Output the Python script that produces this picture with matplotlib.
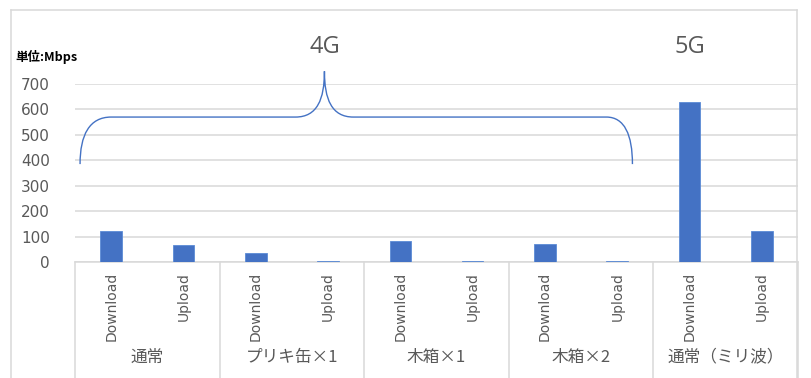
import numpy as np
import matplotlib.pyplot as plt
from matplotlib.path import Path
from matplotlib.patches import PathPatch
from matplotlib.lines import Line2D

plt.rcParams['font.family'] = ['Noto Sans CJK JP', 'DejaVu Sans']

# data
groups = ["通常", "プリキ缶×1", "木箱×1", "木箱×2", "通常（ミリ波）"]
directions = ["Download", "Upload"]
download = [122, 35, 82, 70, 630]
upload = [65, 5, 3, 3, 122]
y_ticks = [0, 100, 200, 300, 400, 500, 600, 700]

BLUE = "#4472C4"
GRAY_TXT = "#595959"
GRID = "#D9D9D9"

values = []
labels = []
for d, u in zip(download, upload):
    values += [d, u]
    labels += directions
x = np.arange(len(values))

W, H = 811, 378
fig = plt.figure(figsize=(W / 100, H / 100), dpi=100)
ax = fig.add_axes([75 / W, 1 - 262 / H, (798 - 75) / W, (262 - 84) / H])

ax.bar(x, values, width=0.3, color=BLUE, edgecolor="#5B8BD6", linewidth=0.6, zorder=3)

ax.set_xlim(-0.5, len(values) - 0.5)
ax.set_ylim(0, 700)
ax.set_yticks(y_ticks)
ax.set_yticklabels([str(v) for v in y_ticks], fontsize=11, color=GRAY_TXT,
                   family=['DejaVu Sans'])
ax.tick_params(axis="y", length=0, pad=18)
ax.grid(axis="y", color=GRID, linewidth=1.1, zorder=0)
for s in ["top", "right", "left"]:
    ax.spines[s].set_visible(False)
ax.spines["bottom"].set_color(GRID)
ax.spines["bottom"].set_linewidth(1.1)

ax.set_xticks(x)
ax.set_xticklabels(labels, rotation=90, fontsize=10, color=GRAY_TXT,
                   family=['DejaVu Sans'], va="top", ha="center")
ax.tick_params(axis="x", length=0, pad=7)

# group separators and labels
trans = ax.get_xaxis_transform()
for i in range(len(groups) + 1):
    xs = 2 * i - 0.5
    ax.add_line(Line2D([xs, xs], [0, -0.75], transform=trans, color=GRID,
                       linewidth=1.1, clip_on=False))
for i, g in enumerate(groups):
    ax.text(2 * i + 0.5, -0.535, g, transform=trans, ha="center", va="center",
            fontsize=12, color=GRAY_TXT)

# brace over the 4G groups (annotation in data units)
verts = [
    (-0.43, 385), (-0.43, 500), (-0.3, 570), (0.0, 570),
    (2.55, 570),
    (2.85, 570), (2.95, 640), (2.95, 750),
    (2.95, 640), (3.05, 570), (3.35, 570),
    (6.85, 570),
    (7.1, 570), (7.21, 500), (7.21, 385),
]
codes = [Path.MOVETO, Path.CURVE4, Path.CURVE4, Path.CURVE4,
         Path.LINETO,
         Path.CURVE4, Path.CURVE4, Path.CURVE4,
         Path.CURVE4, Path.CURVE4, Path.CURVE4,
         Path.LINETO,
         Path.CURVE4, Path.CURVE4, Path.CURVE4]
ax.add_patch(PathPatch(Path(verts, codes), facecolor="none", edgecolor=BLUE,
                       linewidth=1.0, clip_on=False, zorder=4))

ax.text(2.95, 845, "4G", ha="center", va="center", fontsize=17, color=GRAY_TXT,
        family=['Open Sans'])
ax.text(8.0, 845, "5G", ha="center", va="center", fontsize=17, color=GRAY_TXT,
        family=['Open Sans'])

fig.text(15 / W, 1 - 57 / H, "単位:Mbps", fontsize=9, fontweight="bold",
         color="black", ha="left", va="center")

# chart frame
for xs, ys in [([11, 11], [10, H]), ([11, 797], [10, 10]), ([797, 797], [10, H])]:
    fig.add_artist(Line2D([v / W for v in xs], [1 - v / H for v in ys],
                          color=GRID, linewidth=1.1))

fig.savefig("out.png", dpi=100)
